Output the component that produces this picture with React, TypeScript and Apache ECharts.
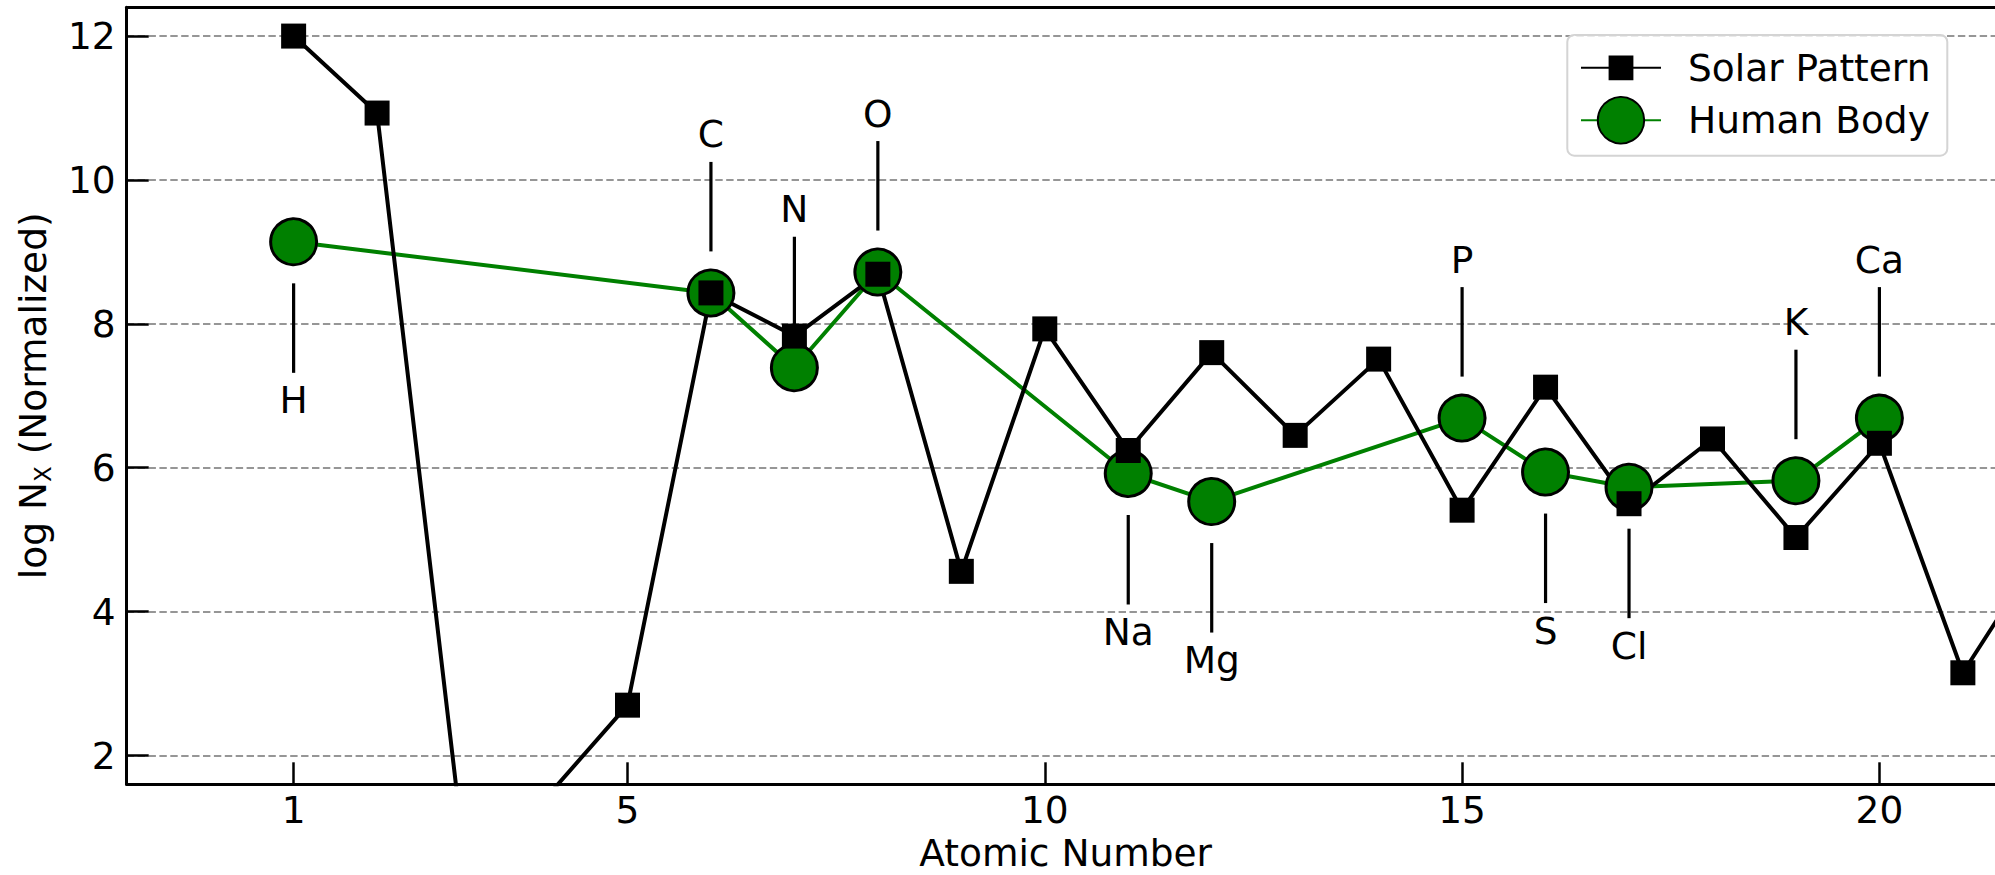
import React, { useEffect, useRef } from 'react';
import * as echarts from 'echarts';

// ---- data ----
const solarZ = [1, 2, 3, 4, 5, 6, 7, 8, 9, 10, 11, 12, 13, 14, 15, 16, 17, 18, 19, 20, 21, 22];
const solarLogN = [12.0, 10.93, 1.05, 1.38, 2.7, 8.43, 7.83, 8.69, 4.56, 7.93, 6.24, 7.6, 6.45, 7.51, 5.41, 7.12, 5.5, 6.4, 5.03, 6.34, 3.15, 4.95];

const humanZ = [1, 6, 7, 8, 11, 12, 15, 16, 17, 19, 20];
const humanLogN = [9.14, 8.43, 7.39, 8.72, 5.92, 5.53, 6.69, 5.94, 5.73, 5.82, 6.69];
const humanSymbols = ['H', 'C', 'N', 'O', 'Na', 'Mg', 'P', 'S', 'Cl', 'K', 'Ca'];
const labelAbove = [false, true, true, true, false, false, true, false, false, true, true];

const xTicks = [1, 5, 10, 15, 20];
const yTicks = [2, 4, 6, 8, 10, 12];

const FONT = 'DejaVu Sans';
const FS = 37.5;

export default function App() {
  const ref = useRef<HTMLDivElement>(null);

  useEffect(() => {
    const chart = echarts.init(ref.current!, null, { renderer: 'svg' });

    const solarData = solarZ.map((z, i) => [z, solarLogN[i]]);
    const humanData = humanZ.map((z, i) => [z, humanLogN[i]]);
    const annotData = humanZ.map((z, i) => [z, humanLogN[i], labelAbove[i] ? 1 : -1]);

    const option: any = {
      animation: false,
      backgroundColor: '#fff',
      grid: {
        left: 126.7,
        top: 7.3,
        width: 1877.9,
        height: 777,
        containLabel: false,
        outerBoundsMode: 'none',
      },
      xAxis: [
        {
          type: 'value',
          min: -1,
          max: 21.5,
          position: 'bottom',
          z: 3,
          name: 'Atomic Number',
          nameLocation: 'middle',
          nameGap: 50,
          nameTextStyle: { fontFamily: FONT, fontSize: FS, color: '#000' },
          axisLine: { show: true, onZero: false, lineStyle: { color: '#000', width: 3 } },
          axisTick: { show: true, inside: true, length: 22, customValues: xTicks, lineStyle: { color: '#000', width: 2.5 } },
          axisLabel: { show: true, customValues: xTicks, margin: 7, fontFamily: FONT, fontSize: FS, color: '#000' },
          splitLine: { show: false },
        },
        {
          type: 'value',
          min: -1,
          max: 21.5,
          position: 'top',
          z: 3,
          axisLine: { show: true, onZero: false, lineStyle: { color: '#000', width: 3 } },
          axisTick: { show: false },
          axisLabel: { show: false },
          splitLine: { show: false },
        },
      ],
      yAxis: {
        type: 'value',
        min: 1.6,
        max: 12.4,
        z: 3,
        name: '{n|log N}{s|X}{n| (Normalized)}',
        nameLocation: 'middle',
        nameGap: 72,
        nameTextStyle: {
          fontFamily: FONT,
          fontSize: FS,
          color: '#000',
          rich: {
            n: { fontFamily: FONT, fontSize: FS, color: '#000', lineHeight: 44 },
            s: { fontFamily: FONT, fontSize: 23, color: '#000', lineHeight: 26, verticalAlign: 'bottom' },
          },
        },
        axisLine: { show: true, onZero: false, lineStyle: { color: '#000', width: 3 } },
        axisTick: { show: true, inside: true, length: 22, customValues: yTicks, lineStyle: { color: '#000', width: 2.5 } },
        axisLabel: { show: true, customValues: yTicks, margin: 11, fontFamily: FONT, fontSize: FS, color: '#000' },
        splitLine: { show: false },
      },
      legend: [
        {
          data: ['Solar Pattern'],
          left: 1580,
          top: 64.3 - 15.5,
          padding: 0,
          itemWidth: 80,
          itemHeight: 31,
          selectedMode: false,
          textStyle: { fontFamily: FONT, fontSize: FS, color: '#000', padding: [0, 0, 0, 22] },
        },
        {
          data: ['Human Body'],
          left: 1580,
          top: 120 - 29 + 5,
          padding: 0,
          itemWidth: 80,
          itemHeight: 58,
          selectedMode: false,
          textStyle: { fontFamily: FONT, fontSize: FS, color: '#000', padding: [0, 0, 0, 22] },
        },
      ],
      graphic: [
        {
          type: 'rect',
          z: 3,
          shape: { x: 1567.3, y: 35, width: 380, height: 120.7, r: 7 },
          style: { fill: 'rgba(255,255,255,0.8)', stroke: '#d4d4d4', lineWidth: 2 },
        },
      ],
      series: [
        {
          name: 'grid',
          type: 'line',
          data: [],
          silent: true,
          markLine: {
            z: 1,
            silent: true,
            symbol: ['none', 'none'],
            label: { show: false },
            lineStyle: { color: '#969696', width: 2, type: [7.4, 3.5] },
            emphasis: { disabled: true },
            data: yTicks.map((v) => ({ yAxis: v })),
          },
        },
        {
          name: 'Human Body',
          type: 'line',
          data: humanData,
          symbol: 'circle',
          symbolSize: 46,
          itemStyle: { color: '#008000', borderColor: '#000', borderWidth: 3 },
          lineStyle: { color: '#008000', width: 4 },
          emphasis: { disabled: true },
        },
        {
          name: 'Solar Pattern',
          type: 'line',
          data: solarData,
          symbol: 'rect',
          symbolSize: 25,
          itemStyle: { color: '#000' },
          lineStyle: { color: '#000', width: 4 },
          emphasis: { disabled: true },
        },
        {
          name: 'labels',
          type: 'custom',
          data: annotData,
          encode: { x: 0, y: 1 },
          silent: true,
          z: 4,
          renderItem: (params: any, api: any) => {
            const p = api.coord([api.value(0), api.value(1)]);
            const s = api.value(2);
            return {
              type: 'group',
              children: [
                {
                  type: 'line',
                  shape: { x1: p[0], y1: p[1] - s * 41.5, x2: p[0], y2: p[1] - s * 131 },
                  style: { stroke: '#000', lineWidth: 3.2 },
                },
                {
                  type: 'text',
                  x: p[0],
                  y: p[1] - s * 158.5,
                  style: {
                    text: humanSymbols[params.dataIndex],
                    fill: '#000',
                    fontFamily: FONT,
                    fontSize: FS,
                    align: 'center',
                    verticalAlign: 'middle',
                  },
                },
              ],
            };
          },
        },
      ],
    };

    chart.setOption(option);
    return () => chart.dispose();
  }, []);

  return (
    <div
      ref={ref}
      style={{ position: 'fixed', left: 0, top: 0, width: 1995, height: 875, background: '#fff' }}
    />
  );
}
